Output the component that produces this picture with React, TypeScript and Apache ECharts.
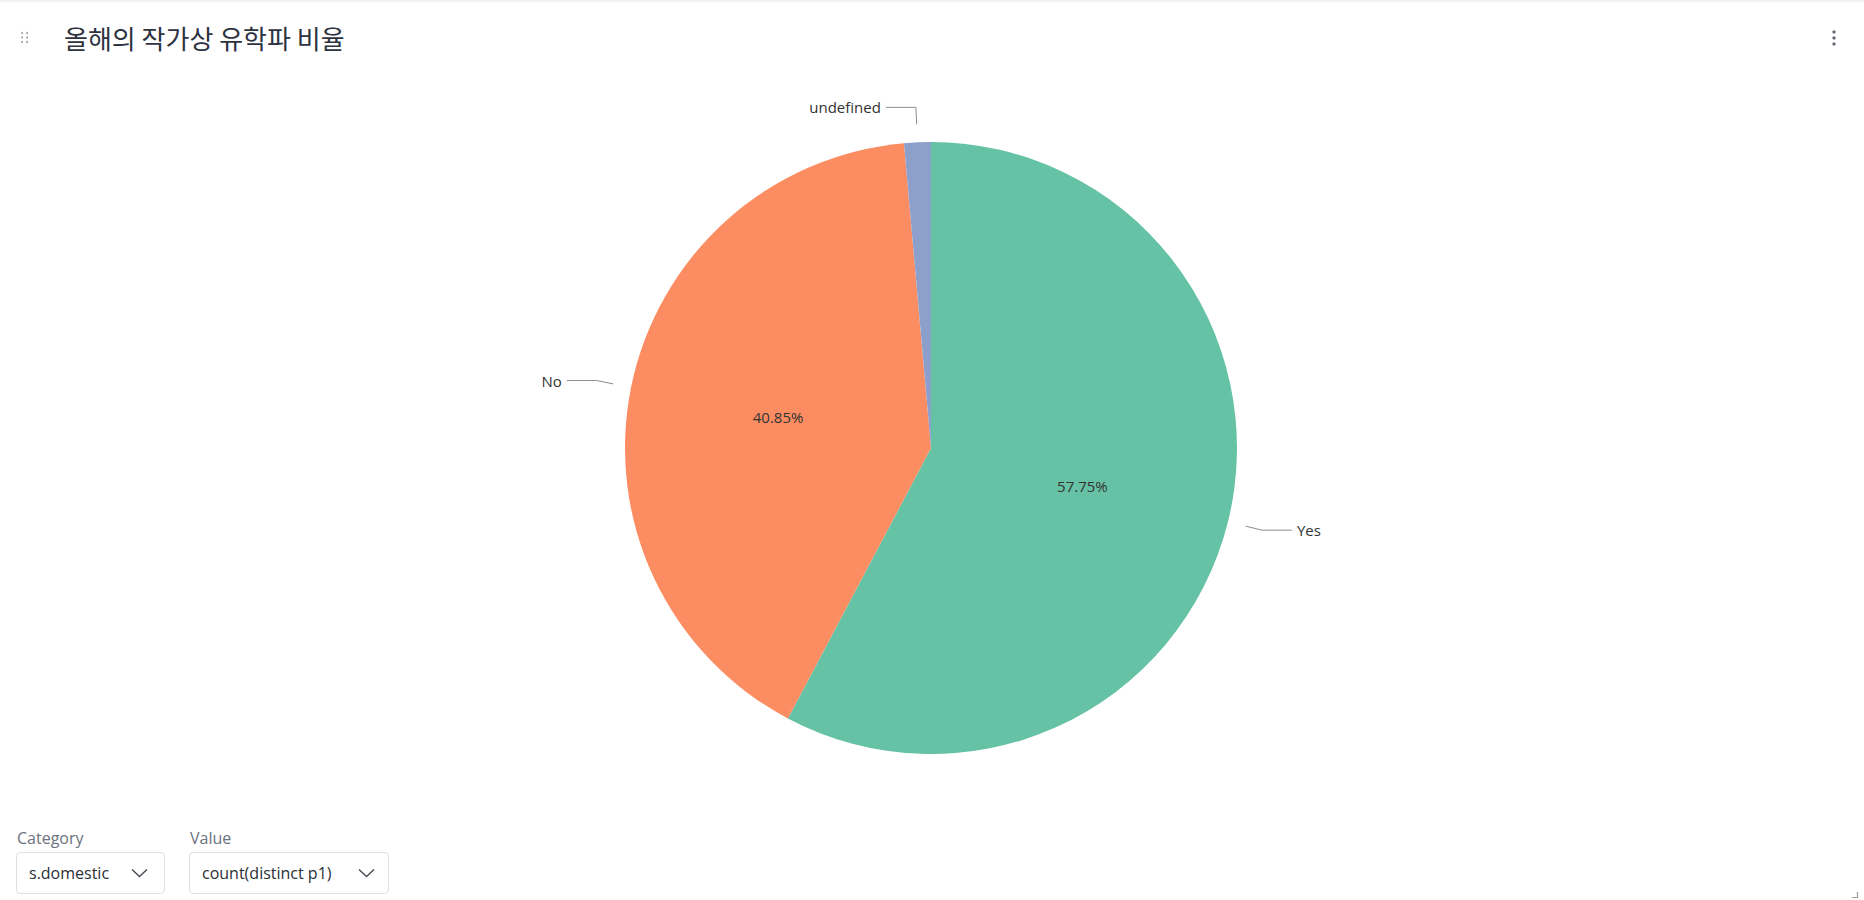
import React, { useEffect, useRef } from "react";
import * as echarts from "echarts";

const titleText = "올해의 작가상 유학파 비율";
const categories = ["Yes", "No", "undefined"];
const counts = [82, 58, 2];
const sliceColors = ["#66c2a5", "#fc8d62", "#8da0cb"];
const controlLabels = ["Category", "Value"];
const controlValues = ["s.domestic", "count(distinct p1)"];

const total = counts.reduce((a, b) => a + b, 0);
const pct = (v: number) => ((v / total) * 100).toFixed(2);

const Chevron = () => (
  <svg width="17" height="10" viewBox="0 0 17 10" style={{ display: "block" }}>
    <polyline points="1,1.5 8.5,8.5 16,1.5" fill="none" stroke="#4a4f57" strokeWidth="1.5" />
  </svg>
);

const Select = ({ left, width, label, value, chevronLeft }: any) => (
  <>
    <div
      style={{
        position: "absolute",
        left: left + 1,
        top: 828,
        fontFamily: "'Open Sans', sans-serif",
        fontSize: 16,
        lineHeight: "20px",
        color: "#6b7280",
      }}
    >
      {label}
    </div>
    <div
      style={{
        position: "absolute",
        left,
        top: 852,
        width,
        height: 42,
        boxSizing: "border-box",
        border: "1px solid #dcdfe4",
        borderRadius: 4,
        background: "#fff",
        display: "flex",
        alignItems: "center",
        paddingLeft: 12,
        fontFamily: "'Open Sans', sans-serif",
        fontSize: 16,
        lineHeight: "20px",
        color: "#2b2f36",
      }}
    >
      {value}
      <div style={{ position: "absolute", left: chevronLeft, top: 15 }}>
        <Chevron />
      </div>
    </div>
  </>
);

export default function App() {
  const ref = useRef<HTMLDivElement>(null);

  useEffect(() => {
    document.body.style.margin = "0";
    const chart = echarts.init(ref.current!, undefined, { renderer: "svg" });
    const pieData = categories.map((c, i) => ({
      name: c,
      value: counts[i],
      itemStyle: { color: sliceColors[i] },
    }));
    const ghostData = categories.map((c, i) => ({
      name: c,
      value: counts[i],
      itemStyle: { color: "rgba(0,0,0,0)" },
    }));
    const dots: any[] = [];
    [22, 27].forEach((x) =>
      [33, 37.5, 42].forEach((y) =>
        dots.push({ type: "circle", shape: { cx: x, cy: y, r: 1 }, style: { fill: "#9aa0a8" }, silent: true })
      )
    );
    [32, 38, 44].forEach((y) =>
      dots.push({ type: "circle", shape: { cx: 1834, cy: y, r: 1.6 }, style: { fill: "#5f6570" }, silent: true })
    );
    chart.setOption({
      animation: false,
      backgroundColor: "#ffffff",
      title: {
        text: titleText,
        left: 64,
        top: 22,
        padding: 0,
        textStyle: {
          fontFamily: "'Noto Sans CJK KR', sans-serif",
          fontSize: 26,
          fontWeight: "normal",
          color: "#2d3340",
          lineHeight: 30,
        },
      },
      graphic: [
        { type: "rect", shape: { x: 0, y: 0, width: 1864, height: 2 }, style: { fill: "#f1f2f5" }, silent: true },
        ...dots,
        {
          type: "polyline",
          shape: { points: [[1857.5, 892], [1857.5, 897.5], [1852, 897.5]] },
          style: { stroke: "#9a9a9a", lineWidth: 1.2, fill: "none" },
          silent: true,
        },
      ],
      series: [
        {
          type: "pie",
          center: [931, 448],
          radius: 306,
          startAngle: 90,
          clockwise: true,
          data: pieData,
          minShowLabelAngle: 10,
          label: {
            show: true,
            position: "inner",
            formatter: (p: any) => pct(p.value) + "%",
            color: "#333333",
            fontSize: 15,
            fontFamily: "'Open Sans', sans-serif",
          },
          labelLine: { show: false },
          emphasis: { disabled: true },
          silent: true,
        },
        {
          type: "pie",
          center: [931, 448],
          radius: 324,
          startAngle: 90,
          clockwise: true,
          data: ghostData,
          label: {
            show: true,
            position: "outside",
            formatter: "{b}",
            color: "#333333",
            fontSize: 15,
            fontFamily: "'Open Sans', sans-serif",
          },
          labelLine: {
            show: true,
            length: 17,
            length2: 30,
            lineStyle: { color: "#8c8c8c", width: 1 },
          },
          emphasis: { disabled: true },
          silent: true,
          z: 1,
        },
      ],
    });
    return () => chart.dispose();
  }, []);

  return (
    <div style={{ position: "fixed", left: 0, top: 0, width: 1864, height: 900, background: "#fff" }}>
      <div ref={ref} style={{ position: "absolute", left: 0, top: 0, width: 1864, height: 900 }} />
      <Select left={16} width={149} label={controlLabels[0]} value={controlValues[0]} chevronLeft={114} />
      <Select left={189} width={200} label={controlLabels[1]} value={controlValues[1]} chevronLeft={168} />
    </div>
  );
}
